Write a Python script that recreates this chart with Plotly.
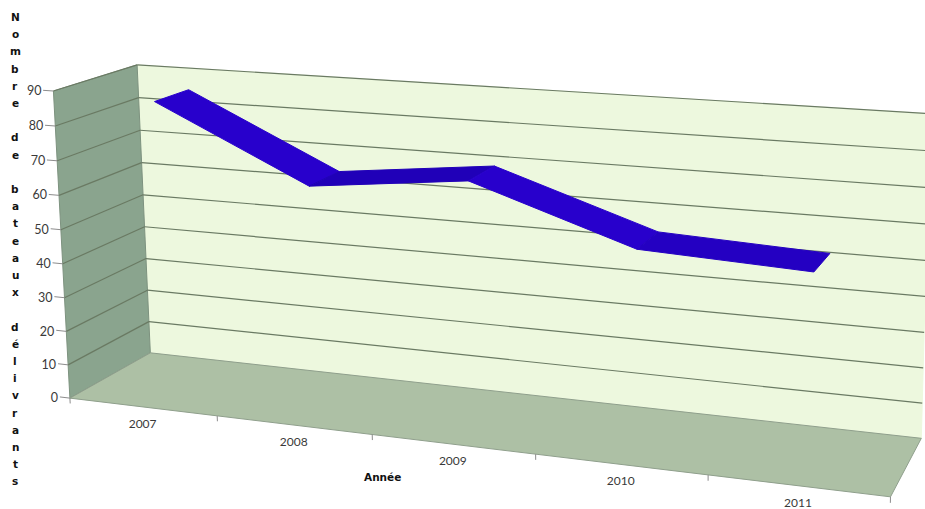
import numpy as np
import plotly.graph_objects as go

# Chart data
categories = ["2007", "2008", "2009", "2010", "2011"]
boats = [86, 65, 70, 55, 53]
value_ticks = [0, 10, 20, 30, 40, 50, 60, 70, 80, 90]
y_title = "Nombre de bateaux délivrants"
x_title = "Année"

# Extents of the 3D box: category slots, value range, depth
N_CAT = len(categories)
V_MAX = 90
POINT_OFFSET = 0.505
RIBBON_FRONT, RIBBON_BACK = 0.30, 0.73

# Camera calibration: box landmarks (category, value, depth) -> page position
landmarks = [
    ((0, 0, 0), (70, 397)), ((0, 90, 0), (53, 90)), ((0, 50, 0), (62, 229)),
    ((0, 0, 1), (150, 352)), ((0, 90, 1), (137, 66)), ((0, 50, 1), (143, 195)),
    ((1, 0, 0), (217, 417)), ((2, 0, 0), (372, 437)), ((5, 0, 0), (890, 496)),
    ((5, 0, 1), (922, 437)), ((5, 90, 1), (930, 113)), ((5, 50, 1), (926, 262)),
]


def fit_camera(pairs):
    rows = []
    for (c, v, d), (px, py) in pairs:
        w = [c, v / 90, d, 1]
        rows.append(w + [0, 0, 0, 0] + [-px * t for t in w])
        rows.append([0, 0, 0, 0] + w + [-py * t for t in w])
    return np.linalg.svd(np.array(rows, dtype=float))[2][-1].reshape(3, 4)


CAM = fit_camera(landmarks)


def project(c, v, d):
    h = CAM @ np.array([c, v / 90, d, 1.0])
    return h[0] / h[2], h[1] / h[2]


def polygon(corners, fill, line=None, width=1):
    pts = [project(*p) for p in corners]
    pts.append(pts[0])
    return go.Scatter(
        x=[p[0] for p in pts], y=[p[1] for p in pts], mode="lines", fill="toself",
        fillcolor=fill, line=dict(color=line or fill, width=width), hoverinfo="skip",
    )


def segments(pairs, color, width=1):
    xs, ys = [], []
    for a, b in pairs:
        pa, pb = project(*a), project(*b)
        xs += [pa[0], pb[0], None]
        ys += [pa[1], pb[1], None]
    return go.Scatter(x=xs, y=ys, mode="lines", line=dict(color=color, width=width), hoverinfo="skip")


fig = go.Figure()

# Walls and floor
fig.add_trace(polygon([(0, 0, 1), (0, V_MAX, 1), (5, V_MAX, 1), (5, 0, 1)], "#edf8de"))
fig.add_trace(polygon([(0, 0, 0), (0, V_MAX, 0), (0, V_MAX, 1), (0, 0, 1)], "#8aa48e", "#7d927f"))
fig.add_trace(polygon([(0, 0, 0), (5, 0, 0), (5, 0, 1), (0, 0, 1)], "#adc0a5", "#8f9f8c"))

# Gridlines run along the side wall and then along the back wall
grid_color = "#6a7a63"
fig.add_trace(segments(
    [((0, v, 0), (0, v, 1)) for v in value_ticks[1:]]
    + [((0, v, 1), (5, v, 1)) for v in value_ticks[1:]],
    grid_color, 1.2,
))

# Axis ticks
fig.add_trace(segments([((-0.07, v, 0), (0, v, 0)) for v in value_ticks], "#8c8c8c"))
fig.add_trace(segments([((c, -1.6, 0), (c, 0, 0)) for c in range(N_CAT + 1)], "#8c8c8c"))

# Ribbon for the series, one quad per interval
shades = ["#2800cc", "#2000b8", "#2800cc", "#2400c2"]
for i in range(N_CAT - 1):
    a, b = i + POINT_OFFSET, i + 1 + POINT_OFFSET
    fig.add_trace(polygon(
        [(a, boats[i], RIBBON_FRONT), (a, boats[i], RIBBON_BACK),
         (b, boats[i + 1], RIBBON_BACK), (b, boats[i + 1], RIBBON_FRONT)],
        shades[i], shades[i],
    ))

# Value labels
val_pos = [project(0, v, 0) for v in value_ticks]
fig.add_trace(go.Scatter(
    x=[p[0] - 12 for p in val_pos], y=[p[1] + 1 for p in val_pos],
    mode="text", text=[str(v) for v in value_ticks], textposition="middle left",
    textfont=dict(family="Lato", size=12.5, color="#3a3a3a"), hoverinfo="skip",
))

# Category labels
cat_pos = [project(i + 0.5, 0, 0) for i in range(N_CAT)]
fig.add_trace(go.Scatter(
    x=[p[0] for p in cat_pos], y=[p[1] + 18 for p in cat_pos],
    mode="text", text=categories, textposition="middle center",
    textfont=dict(family="Lato", size=12, color="#3a3a3a"), hoverinfo="skip",
))

title_font = dict(family="DejaVu Sans", size=10.5, color="#111111", weight="bold")

# The value-axis title is stacked one letter per row
annotations = [
    dict(x=15, y=17 + k * 17.2, text=ch, showarrow=False, xref="x", yref="y",
         xanchor="center", yanchor="middle", font=title_font)
    for k, ch in enumerate(y_title) if ch != " "
]
annotations.append(dict(x=382, y=477, text=x_title, showarrow=False, xref="x", yref="y",
                        xanchor="center", yanchor="middle", font=title_font))

fig.update_layout(
    width=925, height=509, margin=dict(l=0, r=0, t=0, b=0),
    paper_bgcolor="white", plot_bgcolor="white", showlegend=False,
    xaxis=dict(range=[0, 925], visible=False, fixedrange=True),
    yaxis=dict(range=[509, 0], visible=False, fixedrange=True),
    annotations=annotations,
)

fig.write_html("out.html", config=dict(displayModeBar=False))
